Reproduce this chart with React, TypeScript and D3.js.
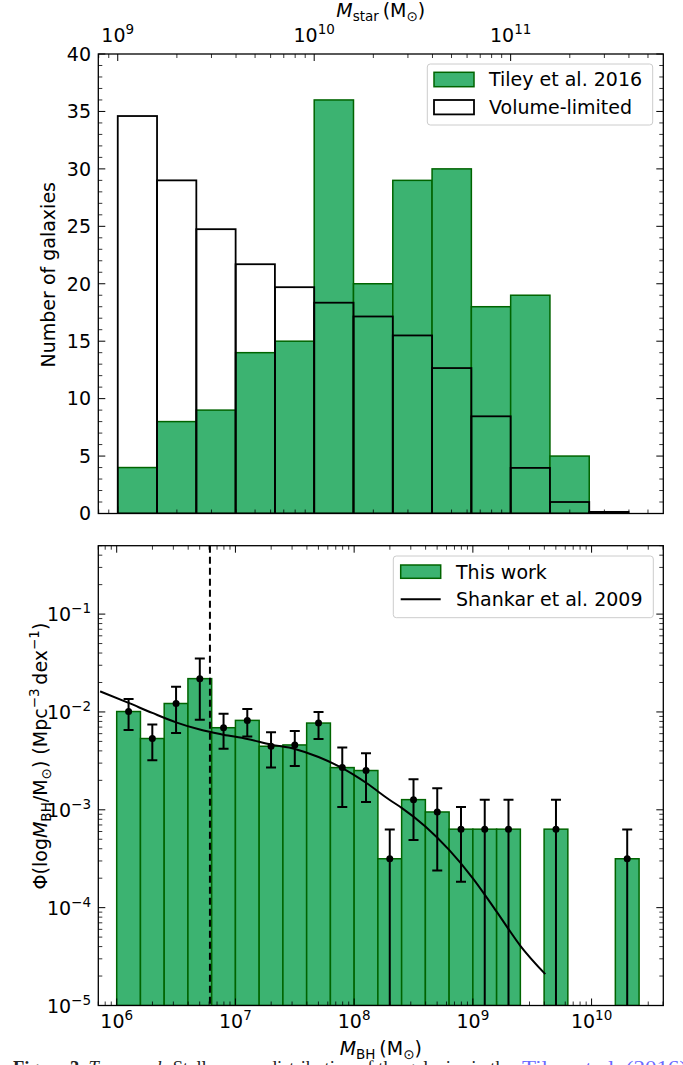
import React from 'react';
import * as d3 from 'd3';

const W = 683;
const H = 1065;
const FONT = "'DejaVu Sans', sans-serif";
const GREEN = '#3cb371';
const DARKGREEN = '#006400';

// ---------- Top panel data (stellar-mass histogram) ----------
const stellarBinStartLog = [9.0, 9.2, 9.4, 9.6, 9.8, 10.0, 10.2, 10.4, 10.6, 10.8, 11.0, 11.2, 11.4];
const stellarBinWidthDex = 0.2;
const tileyCounts = [4, 8, 9, 14, 15, 36, 20, 29, 30, 18, 19, 5];
const volumeLimitedCounts = [34.6, 29.0, 24.75, 21.7, 19.7, 18.35, 17.15, 15.5, 12.66, 8.46, 3.97, 1.0, 0.14];
const countTicks = [0, 5, 10, 15, 20, 25, 30, 35, 40];
const starTickExps = [9, 10, 11];

// ---------- Bottom panel data (BH mass function) ----------
const bhBinCenterLog = [6.1, 6.3, 6.5, 6.7, 6.9, 7.1, 7.3, 7.5, 7.7, 7.9, 8.1, 8.3, 8.5, 8.7, 8.9, 9.1, 9.3, 9.7, 10.3];
const bhBinWidthDex = 0.2;
const phiValues = [1.01e-2, 5.35e-3, 1.22e-2, 2.19e-2, 6.9e-3, 8.2e-3, 4.46e-3, 4.6e-3, 7.7e-3, 2.7e-3, 2.52e-3, 3.16e-4, 1.27e-3, 9.5e-4, 6.34e-4, 6.34e-4, 6.34e-4, 6.34e-4, 3.16e-4];
const phiUpper = [1.36e-2, 7.46e-3, 1.81e-2, 3.52e-2, 9.6e-3, 1.07e-2, 6.2e-3, 6.4e-3, 1.0e-2, 4.33e-3, 3.78e-3, 6.3e-4, 2.05e-3, 1.66e-3, 1.07e-3, 1.27e-3, 1.27e-3, 1.27e-3, 6.3e-4];
const phiLower = [6.55e-3, 3.2e-3, 6.1e-3, 8.3e-3, 4.2e-3, 5.6e-3, 2.7e-3, 2.8e-3, 5.3e-3, 1.07e-3, 1.2e-3, 0, 4.9e-4, 2.4e-4, 1.84e-4, 0, 0, 0, 0];
const shankarLogM = [5.86, 6.1, 6.3, 6.5, 6.7, 6.9, 7.1, 7.3, 7.5, 7.7, 7.9, 8.1, 8.3, 8.4, 8.6, 8.8, 9.0, 9.2, 9.4, 9.61];
const shankarLogPhi = [-1.79, -1.908, -2.01, -2.106, -2.18, -2.232, -2.276, -2.334, -2.378, -2.46, -2.575, -2.724, -2.9, -2.98, -3.17, -3.41, -3.70, -4.04, -4.39, -4.68];
const completenessLimit = 6.1e6;
const bhTickExps = [6, 7, 8, 9, 10];
const phiTickExps = [-5, -4, -3, -2, -1];

// ---------- Layout ----------
const L = 98.3;
const R = 663.3;
const T1 = 54;
const B1 = 513.5;
const T2 = 545.7;
const B2 = 1005.5;
const MAJ = 7;
const MIN = 4;
const FS = 19;
const SUP = 13.5;

const xStar = d3.scaleLog().domain([10 ** 8.901, 10 ** 11.777]).range([L, R]);
const xBH = d3.scaleLog().domain([10 ** 5.845, 10 ** 10.604]).range([L, R]);
const yCount = d3.scaleLinear().domain([0, 40]).range([B1, T1]);
const yPhi = d3.scaleLog().domain([1e-5, 0.5]).range([B2, T2]);

function logMinor(domain: number[]): number[] {
  const lo = Math.log10(domain[0]);
  const hi = Math.log10(domain[1]);
  const out: number[] = [];
  for (let d = Math.floor(lo); d <= Math.ceil(hi); d++) {
    for (let k = 2; k <= 9; k++) {
      const v = k * 10 ** d;
      const lv = Math.log10(v);
      if (lv >= lo - 1e-9 && lv <= hi + 1e-9) out.push(v);
    }
  }
  return out;
}

function XTicks({ scale, major, minor, top, bottom }: any) {
  const els: any[] = [];
  major.forEach((v: number, i: number) => {
    const x = scale(v);
    els.push(<line key={'mt' + i} x1={x} x2={x} y1={top} y2={top + MAJ} stroke="#000" strokeWidth={1} />);
    els.push(<line key={'mb' + i} x1={x} x2={x} y1={bottom} y2={bottom - MAJ} stroke="#000" strokeWidth={1} />);
  });
  minor.forEach((v: number, i: number) => {
    const x = scale(v);
    els.push(<line key={'nt' + i} x1={x} x2={x} y1={top} y2={top + MIN} stroke="#000" strokeWidth={0.8} />);
    els.push(<line key={'nb' + i} x1={x} x2={x} y1={bottom} y2={bottom - MIN} stroke="#000" strokeWidth={0.8} />);
  });
  return <g>{els}</g>;
}

function YTicks({ scale, major, minor }: any) {
  const els: any[] = [];
  major.forEach((v: number, i: number) => {
    const y = scale(v);
    els.push(<line key={'ml' + i} x1={L} x2={L + MAJ} y1={y} y2={y} stroke="#000" strokeWidth={1} />);
    els.push(<line key={'mr' + i} x1={R} x2={R - MAJ} y1={y} y2={y} stroke="#000" strokeWidth={1} />);
  });
  minor.forEach((v: number, i: number) => {
    const y = scale(v);
    els.push(<line key={'nl' + i} x1={L} x2={L + MIN} y1={y} y2={y} stroke="#000" strokeWidth={0.8} />);
    els.push(<line key={'nr' + i} x1={R} x2={R - MIN} y1={y} y2={y} stroke="#000" strokeWidth={0.8} />);
  });
  return <g>{els}</g>;
}

function PowLabel({ x, y, exp, anchor }: any) {
  const e = exp < 0 ? '\u2212' + Math.abs(exp) : String(exp);
  return (
    <text x={x} y={y} textAnchor={anchor} fontSize={FS} fontFamily={FONT} fill="#000">
      10<tspan dy={-8} fontSize={SUP}>{e}</tspan>
    </text>
  );
}

export default function App() {
  const countMinor = d3.range(0, 41, 1).filter((v) => v % 5 !== 0);
  const starMajor = starTickExps.map((e) => 10 ** e);
  const starMinor = logMinor(xStar.domain());
  const bhMajor = bhTickExps.map((e) => 10 ** e);
  const bhMinor = logMinor(xBH.domain());
  const phiMajor = phiTickExps.map((e) => 10 ** e);
  const phiMinor = logMinor(yPhi.domain());

  const shankarLine = d3
    .line<number>()
    .x((_, i) => xBH(10 ** shankarLogM[i]))
    .y((_, i) => yPhi(10 ** shankarLogPhi[i]))
    .curve(d3.curveMonotoneX)(shankarLogM);

  return (
    <svg width={W} height={H} style={{ position: 'absolute', left: 0, top: 0, background: '#fff' }}>
      <defs>
        <clipPath id="clipTop">
          <rect x={L} y={T1} width={R - L} height={B1 - T1} />
        </clipPath>
        <clipPath id="clipBot">
          <rect x={L} y={T2} width={R - L} height={B2 - T2} />
        </clipPath>
      </defs>
      <rect x={0} y={0} width={W} height={H} fill="#fff" />

      {/* ================= TOP PANEL ================= */}
      <g clipPath="url(#clipTop)">
        {tileyCounts.map((c, i) => {
          const s = stellarBinStartLog[i];
          const x0 = xStar(10 ** s);
          const x1 = xStar(10 ** (s + stellarBinWidthDex));
          return (
            <rect key={'tg' + i} x={x0} y={yCount(c)} width={x1 - x0} height={B1 - yCount(c)}
              fill={GREEN} stroke={DARKGREEN} strokeWidth={1.5} />
          );
        })}
        {volumeLimitedCounts.map((c, i) => {
          const s = stellarBinStartLog[i];
          const x0 = xStar(10 ** s);
          const x1 = xStar(10 ** (s + stellarBinWidthDex));
          return (
            <rect key={'tv' + i} x={x0} y={yCount(c)} width={x1 - x0} height={B1 - yCount(c)}
              fill="none" stroke="#000" strokeWidth={1.8} />
          );
        })}
      </g>
      <XTicks scale={xStar} major={starMajor} minor={starMinor} top={T1} bottom={B1} />
      <YTicks scale={yCount} major={countTicks} minor={countMinor} />
      <rect x={L} y={T1} width={R - L} height={B1 - T1} fill="none" stroke="#000" strokeWidth={1.3} />
      {starTickExps.map((e) => (
        <PowLabel key={'sl' + e} x={xStar(10 ** e)} y={42} exp={e} anchor="middle" />
      ))}
      {countTicks.map((v) => (
        <text key={'cl' + v} x={91} y={yCount(v)} dy="0.36em" textAnchor="end" fontSize={FS} fontFamily={FONT}>
          {v}
        </text>
      ))}
      <text x={(L + R) / 2} y={17} textAnchor="middle" fontSize={FS} fontFamily={FONT}>
        <tspan fontStyle="italic">M</tspan>
        <tspan fontSize={SUP} dy={4}>star</tspan>
        <tspan dy={-4}>{'\u2009(M'}</tspan>
        <tspan fontSize={SUP} dy={4}>{'\u2299'}</tspan>
        <tspan dy={-4}>)</tspan>
      </text>
      <text transform={`translate(48,${(T1 + B1) / 2 - 9}) rotate(-90)`} textAnchor="middle" dy="0.36em" fontSize={FS} fontFamily={FONT}>
        Number of galaxies
      </text>

      {/* top legend */}
      <rect x={427.3} y={64} width={225.4} height={61} rx={3} fill="#fff" fillOpacity={0.8} stroke="#cccccc" strokeWidth={1} />
      <rect x={434} y={72.3} width={40} height={14.4} fill={GREEN} stroke={DARKGREEN} strokeWidth={1.5} />
      <text x={489} y={86.4} fontSize={FS} fontFamily={FONT}>Tiley et al. 2016</text>
      <rect x={434} y={100} width={40} height={14.4} fill="none" stroke="#000" strokeWidth={1.8} />
      <text x={489} y={114} fontSize={FS} fontFamily={FONT}>Volume-limited</text>

      {/* ================= BOTTOM PANEL ================= */}
      <g clipPath="url(#clipBot)">
        {phiValues.map((v, i) => {
          const c = bhBinCenterLog[i];
          const x0 = xBH(10 ** (c - bhBinWidthDex / 2));
          const x1 = xBH(10 ** (c + bhBinWidthDex / 2));
          return (
            <rect key={'pb' + i} x={x0} y={yPhi(v)} width={x1 - x0} height={B2 - yPhi(v)}
              fill={GREEN} stroke={DARKGREEN} strokeWidth={1.5} />
          );
        })}
        <line x1={xBH(completenessLimit)} x2={xBH(completenessLimit)} y1={T2} y2={B2}
          stroke="#000" strokeWidth={2} strokeDasharray="7,4" />
        {shankarLine && <path d={shankarLine} fill="none" stroke="#000" strokeWidth={2} />}
        {phiValues.map((v, i) => {
          const x = xBH(10 ** bhBinCenterLog[i]);
          const yU = yPhi(phiUpper[i]);
          const yL = phiLower[i] > 0 ? yPhi(phiLower[i]) : B2 + 5;
          return (
            <g key={'eb' + i}>
              <line x1={x} x2={x} y1={yU} y2={yL} stroke="#000" strokeWidth={2} />
              <line x1={x - 5} x2={x + 5} y1={yU} y2={yU} stroke="#000" strokeWidth={2} />
              {phiLower[i] > 0 && <line x1={x - 5} x2={x + 5} y1={yL} y2={yL} stroke="#000" strokeWidth={2} />}
              <circle cx={x} cy={yPhi(v)} r={3.5} fill="#000" />
            </g>
          );
        })}
      </g>
      <XTicks scale={xBH} major={bhMajor} minor={bhMinor} top={T2} bottom={B2} />
      <YTicks scale={yPhi} major={phiMajor} minor={phiMinor} />
      <rect x={L} y={T2} width={R - L} height={B2 - T2} fill="none" stroke="#000" strokeWidth={1.3} />
      {bhTickExps.map((e) => (
        <PowLabel key={'bl' + e} x={xBH(10 ** e)} y={1028} exp={e} anchor="middle" />
      ))}
      {phiTickExps.map((e) => (
        <PowLabel key={'pl' + e} x={91} y={yPhi(10 ** e) + 7} exp={e} anchor="end" />
      ))}
      <text x={(L + R) / 2} y={1055} textAnchor="middle" fontSize={FS} fontFamily={FONT}>
        <tspan fontStyle="italic">M</tspan>
        <tspan fontSize={SUP} dy={4}>BH</tspan>
        <tspan dy={-4}>{'\u2009(M'}</tspan>
        <tspan fontSize={SUP} dy={4}>{'\u2299'}</tspan>
        <tspan dy={-4}>)</tspan>
      </text>
      <text transform={`translate(40,756) rotate(-90)`} textAnchor="middle" dy="0.36em" fontSize={FS} fontFamily={FONT}>
        {'\u03A6(log'}
        <tspan fontStyle="italic">M</tspan>
        <tspan fontSize={SUP} dy={4}>BH</tspan>
        <tspan dy={-4}>/M</tspan>
        <tspan fontSize={SUP} dy={4}>{'\u2299'}</tspan>
        <tspan dy={-4}>{') (Mpc'}</tspan>
        <tspan fontSize={SUP} dy={-8}>{'\u22123'}</tspan>
        <tspan dy={8}>{'\u2009dex'}</tspan>
        <tspan fontSize={SUP} dy={-8}>{'\u22121'}</tspan>
        <tspan dy={8}>)</tspan>
      </text>

      {/* bottom legend */}
      <rect x={393.3} y={556} width={260} height={61.7} rx={3} fill="#fff" fillOpacity={0.8} stroke="#cccccc" strokeWidth={1} />
      <rect x={400.7} y={565} width={40} height={13.3} fill={GREEN} stroke={DARKGREEN} strokeWidth={1.5} />
      <text x={456} y={578.6} fontSize={FS} fontFamily={FONT}>This work</text>
      <line x1={400.7} x2={440.7} y1={599.3} y2={599.3} stroke="#000" strokeWidth={2} />
      <text x={456} y={606.2} fontSize={FS} fontFamily={FONT}>Shankar et al. 2009</text>

      {/* caption (cut off at page bottom) */}
      <text x={13} y={1074} fontSize={18} fontFamily="'Liberation Serif', serif" fill="#222"
        textLength={500} lengthAdjust="spacingAndGlyphs">
        <tspan fontWeight="bold">Figure 3.</tspan>
        <tspan fontStyle="italic"> Top panel:</tspan>
        <tspan> Stellar mass distribution of the galaxies in the</tspan>
      </text>
      <text x={522} y={1074} fontSize={18} fontFamily="'Liberation Serif', serif" fill="#6a6aff"
        textLength={165} lengthAdjust="spacingAndGlyphs">
        Tiley et al. (2016)
      </text>
    </svg>
  );
}
